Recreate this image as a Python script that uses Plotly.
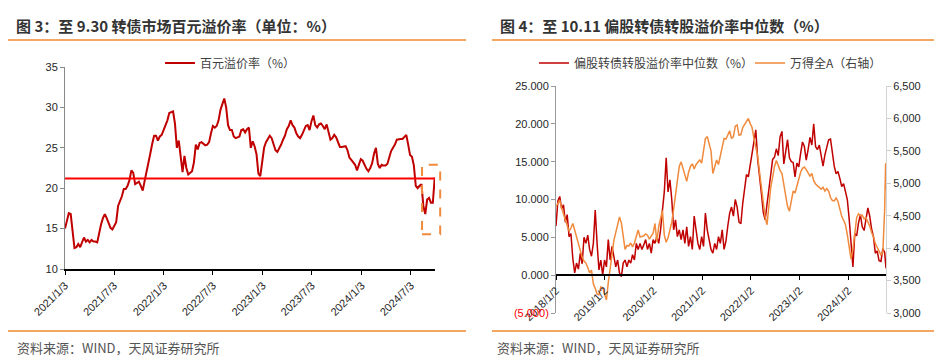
import plotly.graph_objects as go
import pandas as pd

W, H = 942, 360

# ---------------- data: left panel (图3) ----------------
left_dates = pd.date_range("2021-01-03", periods=196, freq="7D")
premium_100 = [
    15.0, 15.9, 16.9, 16.8, 14.6, 12.6, 12.7, 13.1, 12.7, 13.3,
    13.9, 13.4, 13.6, 13.3, 13.6, 13.4, 13.4, 13.3, 14.5, 15.5,
    16.3, 16.8, 16.3, 15.8, 15.1, 14.9, 15.3, 15.8, 17.8, 18.4,
    19.0, 19.9, 19.9, 20.3, 21.0, 22.2, 21.9, 20.5, 20.7, 20.8,
    20.3, 19.7, 20.9, 21.9, 23.2, 24.3, 25.5, 26.5, 26.5, 25.9,
    26.4, 26.6, 27.2, 27.8, 28.4, 29.3, 29.4, 29.5, 28.0, 25.0,
    25.9, 23.5, 22.0, 24.0, 22.5, 21.7, 21.9, 22.1, 23.2, 25.4,
    24.8, 25.6, 25.7, 25.5, 25.3, 25.4, 25.7, 26.8, 27.7, 27.5,
    27.7, 28.4, 29.7, 30.4, 31.1, 30.0, 27.8, 27.2, 27.2, 26.4,
    26.2, 26.3, 26.4, 27.2, 27.3, 26.9, 27.3, 27.5, 25.0, 25.8,
    25.2, 24.2, 21.8, 21.5, 23.6, 25.0, 25.7, 26.2, 26.5, 26.2,
    25.5, 24.7, 24.5, 24.9, 25.4, 26.0, 26.5, 27.3, 27.7, 28.4,
    27.8, 27.5, 26.8, 26.4, 26.2, 26.6, 27.2, 27.7, 27.8, 27.2,
    28.3, 29.0, 27.8, 27.5, 27.9, 28.0, 27.7, 27.3, 27.9, 26.8,
    26.0, 26.2, 26.6, 26.3, 25.6, 25.1, 25.1, 25.2, 25.2, 24.7,
    23.8, 23.5, 23.2, 22.9, 22.2, 22.8, 23.6, 23.4, 22.8, 22.4,
    22.1, 22.5, 23.1, 24.3, 25.0, 23.0, 22.5, 22.9, 22.8, 22.8,
    23.0, 23.9, 24.6, 25.0, 25.4, 26.0, 26.1, 26.1, 26.1, 26.4,
    26.6, 25.4, 24.1, 23.9, 22.8, 20.3, 20.0, 20.3, 20.5, 17.8,
    16.8, 18.6, 18.8, 18.2, 18.2, 21.3,
]
premium_level = 21.2
left_range = ["2021-01-03", "2024-09-30"]
left_tickvals = ["2021-01-03", "2021-07-03", "2022-01-03", "2022-07-03",
                 "2023-01-03", "2023-07-03", "2024-01-03", "2024-07-03"]
left_ticktext = ["2021/1/3", "2021/7/3", "2022/1/3", "2022/7/3",
                 "2023/1/3", "2023/7/3", "2024/1/3", "2024/7/3"]
left_yticks = [10, 15, 20, 25, 30, 35]

# ---------------- data: right panel (图4) ----------------
right_dates = list(pd.date_range("2018-01-02", periods=177, freq="14D")) + [
    pd.Timestamp("2024-10-08"), pd.Timestamp("2024-10-11")]
conv_premium_median = [
    6.5, 9.8, 10.4, 8.8, 9.3, 7.0, 8.0, 5.1, 5.5, 2.2,
    0.3, 1.6, 0.8, 2.9, 1.5, 5.0, 4.2, 5.3, 3.4, 2.5,
    4.2, 8.6, 4.2, 0.7, 2.0, 0.0, 2.0, 1.1, 4.7, 2.0,
    3.8, 2.5, 1.1, 2.0, 0.3, -0.2, 1.6, 2.0, 1.1, 2.0,
    1.6, 2.7, 2.0, 4.2, 3.4, 4.2, 3.4, 4.0, 4.7, 3.4,
    4.2, 2.9, 4.7, 4.2, 5.1, 4.2, 6.0, 8.6, 11.0, 15.5,
    11.0, 12.6, 10.0, 6.0, 7.3, 5.1, 6.0, 4.7, 6.0, 4.2,
    6.4, 3.8, 5.1, 3.4, 7.8, 6.0, 4.2, 3.4, 5.1, 3.8,
    8.2, 6.0, 4.7, 3.4, 2.9, 4.2, 3.4, 5.1, 4.2, 6.0,
    3.4, 4.5, 6.5, 8.2, 9.0, 7.8, 10.0, 9.0, 7.0, 6.8,
    9.5, 11.8, 13.3, 13.0, 14.5, 16.4, 18.0, 19.2, 15.3, 13.3,
    10.8, 8.3, 7.3, 9.4, 11.7, 13.3, 15.3, 15.6, 16.7, 15.8,
    18.3, 19.0, 14.7, 16.4, 17.9, 15.5, 15.0, 14.9, 13.0, 14.8,
    14.3, 16.1, 17.6, 17.0, 15.2, 16.6, 18.2, 17.2, 20.0, 17.0,
    16.6, 17.2, 16.0, 14.4, 15.9, 17.0, 17.9, 18.0, 16.2, 14.4,
    13.4, 13.7, 12.8, 11.7, 12.1, 11.1, 10.0, 7.4, 3.7, 1.1,
    5.5, 5.2, 6.9, 8.0, 6.4, 5.9, 7.4, 8.9, 7.8, 6.1,
    5.1, 2.9, 3.2, 1.9, 1.8, 3.5, 3.0,
    2.0, 0.9,
]
wind_all_a = [
    4640, 4690, 4740, 4620, 4520, 4430, 4340, 4260, 4310, 4380,
    4280, 4170, 4050, 3950, 3860, 3800, 3770, 3700, 3620, 3660,
    3450, 3380, 3290, 3280, 3400, 3390, 3310, 3200, 3470, 3650,
    3900, 4120, 4230, 4350, 4480, 4390, 4140, 3980, 4040, 4030,
    4080, 4020, 4080, 4190, 4280, 4170, 4180, 4190, 4220, 4200,
    4140, 4180, 4230, 4380, 4100, 4330, 4480, 4580, 4200, 4090,
    4160, 4280, 4400, 4600, 4850, 5100, 5260, 5330, 5220, 5130,
    5030, 5170, 5260, 5300, 5220, 5290, 5330, 5360, 5310, 5490,
    5690, 5720, 5600, 5500, 5150, 5280, 5360, 5290, 5430, 5540,
    5690, 5680, 5740, 5810, 5690, 5720, 5880, 5900, 5740, 5750,
    5860, 5910, 5950, 6000, 5920, 5860, 5690, 5530, 5420, 5170,
    4940, 4700, 4480, 4360, 4720, 4940, 5090, 5260, 5350, 5270,
    5200, 5150, 4960, 4790, 4640, 4570, 4740, 4880, 4850, 4960,
    5070, 5170, 5230, 5250, 5210, 5160, 5110, 5150, 5040, 4990,
    4960, 4940, 4910, 4940, 4880, 4920, 4880, 4780, 4735, 4730,
    4775, 4720, 4600, 4490, 4430, 4360, 4210, 4000, 3830, 3980,
    4240, 4470, 4530, 4500, 4510, 4450, 4470, 4400, 4340, 4240,
    4175, 4070, 4010, 3950, 3895, 3930, 4600,
    5310, 4900,
]
right_range = ["2018-01-02", "2024-10-11"]
right_tickvals = ["2018-01-02", "2019-01-02", "2020-01-02", "2021-01-02",
                  "2022-01-02", "2023-01-02", "2024-01-02"]
right_ticktext = ["2018/1/2", "2019/1/2", "2020/1/2", "2021/1/2",
                  "2022/1/2", "2023/1/2", "2024/1/2"]
right_left_ticks = [-5, 0, 5, 10, 15, 20, 25]
right_left_ticktext = ['<span style="color:#FF0000">(5.000)</span>', "0.000", "5.000",
                       "10.000", "15.000", "20.000", "25.000"]
right_right_ticks = [3000, 3500, 4000, 4500, 5000, 5500, 6000, 6500]

# ---------------- styling helpers ----------------
def px_x(p):
    return p / W


def px_y(p):
    return 1 - p / H


DARK_RED = "#C00000"
BRIGHT_RED = "#FF0000"
ORANGE = "#F08A3C"
RULE = "#EE8A2E"
CJK = "Noto Sans CJK SC"
NUM = "Liberation Sans"
tick_font = dict(family=NUM, size=11, color="#262626")

x1_dom = [px_x(57), px_x(427)]
y1_dom = [px_y(261), px_y(59)]
x2_dom = [px_x(548), px_x(878)]
y3_dom = [px_y(305), px_y(78)]
y3_range = [-5, 25]
zero_pos = y3_dom[0] + (0 - y3_range[0]) / (y3_range[1] - y3_range[0]) * (y3_dom[1] - y3_dom[0])

fig = go.Figure()

# left panel
fig.add_trace(go.Scatter(x=left_dates, y=premium_100, mode="lines",
                         line=dict(color=DARK_RED, width=2),
                         name="百元溢价率（%）", xaxis="x", yaxis="y", legend="legend"))
fig.add_trace(go.Scatter(x=left_range, y=[premium_level, premium_level], mode="lines",
                         line=dict(color=BRIGHT_RED, width=2), showlegend=False,
                         hoverinfo="skip", xaxis="x", yaxis="y"))

# right panel
fig.add_trace(go.Scatter(x=right_dates, y=conv_premium_median, mode="lines",
                         line=dict(color=DARK_RED, width=1.5),
                         name="偏股转债转股溢价率中位数（%）", xaxis="x2", yaxis="y3",
                         legend="legend2"))
fig.add_trace(go.Scatter(x=right_dates, y=wind_all_a, mode="lines",
                         line=dict(color=ORANGE, width=1.5),
                         name="万得全A（右轴）", xaxis="x2", yaxis="y4",
                         legend="legend3"))

legend_common = dict(font=dict(family=CJK, size=12, color="#404040"),
                     bgcolor="rgba(0,0,0,0)", xanchor="left", yanchor="middle",
                     itemwidth=30, tracegroupgap=0)

fig.update_layout(
    width=W, height=H,
    margin=dict(l=0, r=0, t=0, b=0, autoexpand=False),
    paper_bgcolor="white", plot_bgcolor="white",
    xaxis=dict(domain=x1_dom, anchor="y", type="date", range=left_range,
               tickmode="array", tickvals=left_tickvals, ticktext=left_ticktext,
               tickangle=-45, tickfont=tick_font, ticks="outside", ticklen=4,
               tickcolor="#000", showline=True, linecolor="#000", linewidth=1.5,
               showgrid=False, zeroline=False, automargin=False),
    yaxis=dict(domain=y1_dom, anchor="x", range=[10, 35], tickmode="array",
               tickvals=left_yticks, tickfont=tick_font, ticks="outside", ticklen=4,
               tickcolor="#888", showline=True, linecolor="#888", linewidth=1,
               showgrid=False, zeroline=False, automargin=False),
    xaxis2=dict(domain=x2_dom, anchor="free", position=zero_pos, side="bottom",
                type="date", range=right_range, tickmode="array",
                tickvals=right_tickvals, ticktext=right_ticktext, tickangle=-45,
                tickfont=tick_font, ticks="outside", ticklen=4, tickcolor="#000",
                showline=True, linecolor="#000", linewidth=1.5,
                showgrid=False, zeroline=False, automargin=False),
    yaxis3=dict(domain=y3_dom, anchor="x2", range=y3_range, tickmode="array",
                tickvals=right_left_ticks, ticktext=right_left_ticktext,
                tickfont=tick_font, ticks="outside", ticklen=4, tickcolor="#999",
                showline=True, linecolor="#999", linewidth=1,
                showgrid=False, zeroline=False, automargin=False),
    yaxis4=dict(domain=y3_dom, anchor="x2", overlaying="y3", side="right",
                range=[3000, 6500], tickmode="array", tickvals=right_right_ticks,
                tickformat=",", tickfont=tick_font, ticks="outside", ticklen=4,
                tickcolor="#ccc", showline=True, linecolor="#d4d4d4", linewidth=1,
                showgrid=False, zeroline=False, automargin=False),
    legend=dict(x=px_x(152), y=px_y(55), **legend_common),
    legend2=dict(x=px_x(526), y=px_y(55), **legend_common),
    legend3=dict(x=px_x(742), y=px_y(55), **legend_common),
    showlegend=True,
)

# dashed highlight box on the left panel (relative to axis domain)
fig.add_shape(type="rect", xref="x domain", yref="y domain",
              x0=0.965, x1=1.014, y0=(14.3 - 10) / 25, y1=(22.9 - 10) / 25,
              line=dict(color=ORANGE, width=2, dash="dash"), fillcolor="rgba(0,0,0,0)")

# title rules and footer rules
for (xa, xb) in [(0, 458), (484, 932)]:
    fig.add_shape(type="line", xref="paper", yref="paper",
                  x0=px_x(xa), x1=px_x(xb), y0=px_y(32), y1=px_y(32),
                  line=dict(color=RULE, width=1.5))
    fig.add_shape(type="line", xref="paper", yref="paper",
                  x0=px_x(xa), x1=px_x(xb), y0=px_y(323), y1=px_y(323),
                  line=dict(color=RULE, width=1.5))

titles = [
    (6, "<b>图 3：至 9.30 转债市场百元溢价率（单位：%）</b>"),
    (490, "<b>图 4：至 10.11 偏股转债转股溢价率中位数（%）</b>"),
]
for xp, txt in titles:
    fig.add_annotation(x=px_x(xp), y=px_y(17), xref="paper", yref="paper",
                       text=txt, showarrow=False, xanchor="left", yanchor="middle",
                       font=dict(family=CJK, size=15, color="#333333"))

for xp in [7, 487]:
    fig.add_annotation(x=px_x(xp), y=px_y(339), xref="paper", yref="paper",
                       text="资料来源：WIND，天风证券研究所", showarrow=False,
                       xanchor="left", yanchor="middle",
                       font=dict(family=CJK, size=13, color="#555555"))

fig.write_html("out.html")
